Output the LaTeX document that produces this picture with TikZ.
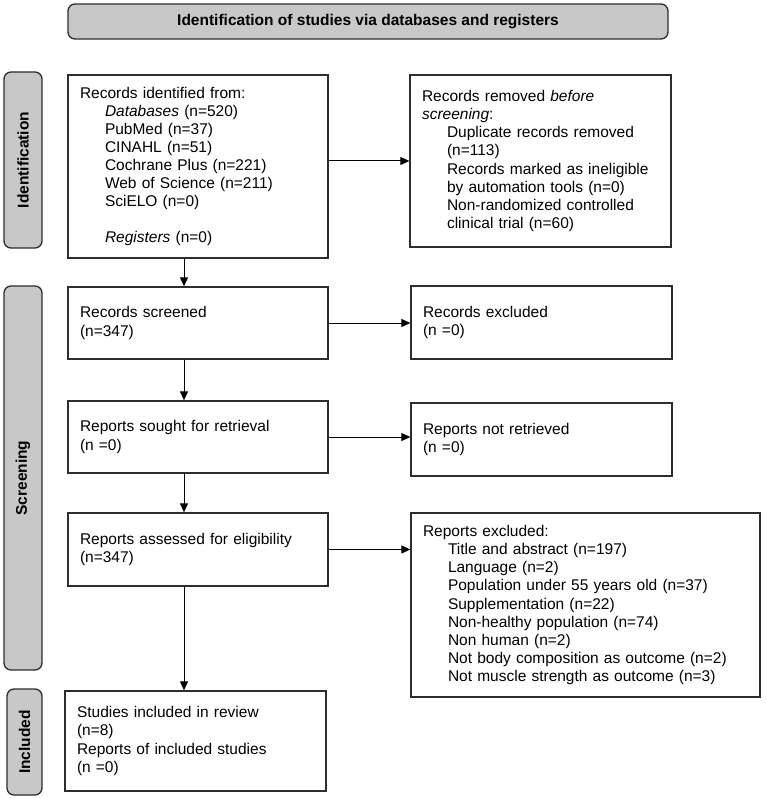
\documentclass[tikz,border=0pt]{standalone}
\usepackage{fontspec}
\setmainfont{Liberation Sans}
\usepackage{tikz}
\usetikzlibrary{arrows.meta}
\definecolor{phasegray}{RGB}{200,200,200}
\definecolor{edgegray}{RGB}{45,45,45}
\newcommand{\ind}{\hspace*{25pt}}

\begin{document}
\begin{tikzpicture}[x=1pt,y=-1pt,
  every node/.style={font=\fontsize{15.5}{18.1}\selectfont},
  box/.style={draw=edgegray,line width=1.3pt,inner xsep=12pt,align=left},
  phase/.style={draw=edgegray,fill=phasegray,line width=1.3pt,rounded corners=7pt,font=\fontsize{15.5}{18.1}\selectfont\bfseries},
  arr/.style={-{Triangle[length=9pt,width=8pt]},line width=1pt}]
%\draw[help lines] (0,0) grid[step=50] (765,799);
\useasboundingbox (0,0) rectangle (765,799);

% header and phase labels
\node (banner) at (368,21.5) [phase,minimum width=600,minimum height=35] {Identification of studies via databases and registers};
\node (idphase) at (23,160) [phase,rotate=90,minimum width=176,minimum height=38] {Identification};
\node (scphase) at (23,478) [phase,rotate=90,minimum width=384,minimum height=38] {Screening};
\node (inphase) at (24.5,742) [phase,rotate=90,minimum width=106,minimum height=35] {Included};

% left column
\node (records) at (198,166.5) [box,text width=236,minimum height=183] {Records identified from:\\
\ind\textit{Databases} (n=520)\\
\ind PubMed (n=37)\\
\ind CINAHL (n=51)\\
\ind Cochrane Plus (n=221)\\
\ind Web of Science (n=211)\\
\ind SciELO (n=0)\\[18.1pt]
\ind\textit{Registers} (n=0)};
\node (screened) at (198,323) [box,text width=236,minimum height=72] {Records screened\\(n=347)};
\node (sought) at (198,437) [box,text width=236,minimum height=72] {Reports sought for retrieval\\(n =0)};
\node (assessed) at (198,549.5) [box,text width=236,minimum height=73] {Reports assessed for eligibility\\(n=347)};
\node (included) at (195.5,741) [box,text width=237,minimum height=100] {Studies included in review\\(n=8)\\Reports of included studies\\(n =0)};

% right column
\node (removed) at (540.5,161) [box,text width=237,minimum height=172] {Records removed \textit{before}\\
\textit{screening}:\\
\ind Duplicate records removed\\
\ind (n=113)\\
\ind Records marked as ineligible\\
\ind by automation tools (n=0)\\
\ind Non-randomized controlled\\
\ind clinical trial (n=60)};
\node (excluded) at (541.5,322.5) [box,text width=237,minimum height=73] {Records excluded\\(n =0)};
\node (notretr) at (541.5,439.5) [box,text width=237,minimum height=73] {Reports not retrieved\\(n =0)};
\node (repexcl) at (585.5,605) [box,text width=325,minimum height=184] {Reports excluded:\\
\ind Title and abstract (n=197)\\
\ind Language (n=2)\\
\ind Population under 55 years old (n=37)\\
\ind Supplementation (n=22)\\
\ind Non-healthy population (n=74)\\
\ind Non human (n=2)\\
\ind Not body composition as outcome (n=2)\\
\ind Not muscle strength as outcome (n=3)};

% arrows
\coordinate (spine) at (184,0);
\draw[arr] (spine |- records.south) -- (spine |- screened.north);
\draw[arr] (spine |- screened.south) -- (spine |- sought.north);
\draw[arr] (spine |- sought.south) -- (spine |- assessed.north);
\draw[arr] (spine |- assessed.south) -- (spine |- included.north);

\draw[arr] (records.east |- removed.west) -- (removed.west);
\draw[arr] (screened.east) -- (screened.east -| excluded.west);
\draw[arr] (sought.east) -- (sought.east -| notretr.west);
\draw[arr] (assessed.east) -- (assessed.east -| repexcl.west);
\end{tikzpicture}
\end{document}
